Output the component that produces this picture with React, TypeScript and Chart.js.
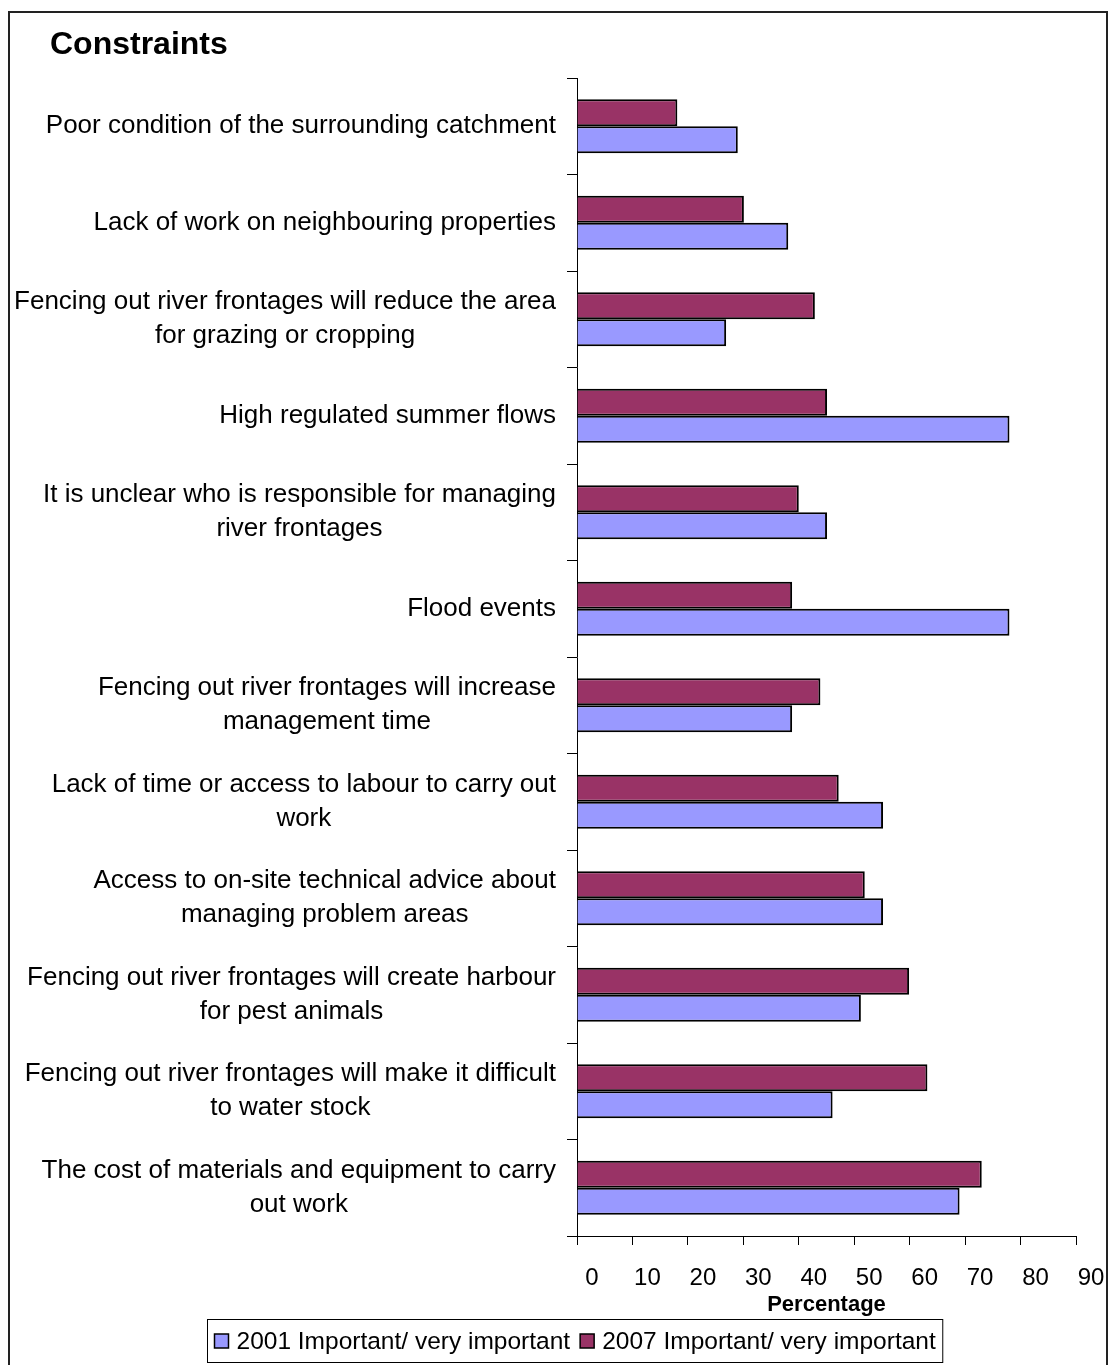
import React, { useEffect, useRef } from "react";
import { Chart, registerables } from "chart.js";

Chart.register(...registerables);

const categories: (string | string[])[] = [
  "Poor condition of the surrounding catchment",
  "Lack of work on neighbouring properties",
  ["Fencing out river frontages will reduce the area", "for grazing or cropping"],
  "High regulated summer flows",
  ["It is unclear who is responsible for managing", "river frontages"],
  "Flood events",
  ["Fencing out river frontages will increase", "management time"],
  ["Lack of time or access to labour to carry out", "work"],
  ["Access to on-site technical advice about", "managing problem areas"],
  ["Fencing out river frontages will create harbour", "for pest animals"],
  ["Fencing out river frontages will make it difficult", "to water stock"],
  ["The cost of materials and equipment to carry", "out work"],
];

const values2001 = [29, 38.1, 26.9, 78, 45.1, 78, 38.8, 55.2, 55.2, 51.2, 46.1, 69];
const values2007 = [18.1, 30.1, 42.9, 45.1, 40, 38.8, 43.9, 47.2, 51.9, 59.9, 63.2, 73];

const seriesLabels = ["2001 Important/ very important", "2007 Important/ very important"];
const chartTitle = "Constraints";
const xAxisTitle = "Percentage";
const xMin = 0;
const xMax = 90;
const xStep = 10;

const FONT = "'Liberation Sans', Arial, sans-serif";

const decorPlugin = {
  id: "decor",
  beforeDraw(chart: any) {
    const ctx = chart.ctx;
    ctx.save();
    ctx.fillStyle = "#ffffff";
    ctx.fillRect(0, 0, chart.width, chart.height);
    ctx.strokeStyle = "#222222";
    ctx.lineWidth = 2;
    ctx.beginPath();
    ctx.moveTo(9, chart.height + 5);
    ctx.lineTo(9, 12);
    ctx.lineTo(1107, 12);
    ctx.lineTo(1107, chart.height + 5);
    ctx.stroke();
    ctx.restore();
  },
  afterDraw(chart: any) {
    const ctx = chart.ctx;
    ctx.save();
    // title
    ctx.fillStyle = "#000";
    ctx.font = `bold 32px ${FONT}`;
    ctx.textAlign = "left";
    ctx.textBaseline = "alphabetic";
    ctx.fillText(chartTitle, 50, 54);

    // y category labels: block right-aligned, lines centered within block
    const yScale = chart.scales.y;
    ctx.font = `26px ${FONT}`;
    ctx.textAlign = "center";
    ctx.textBaseline = "middle";
    const labels = chart.data.labels as (string | string[])[];
    const lineH = 34;
    const rightEdge = 556;
    labels.forEach((lab, i) => {
      const lines = Array.isArray(lab) ? lab : [lab];
      const w = Math.max(...lines.map((l) => ctx.measureText(l).width));
      const cx = rightEdge - w / 2;
      const cy = yScale.getPixelForValue(i);
      lines.forEach((l, j) => {
        ctx.fillText(l, cx, cy + (j - (lines.length - 1) / 2) * lineH);
      });
    });

    // legend (2001 first, 2007 second)
    const ds = chart.data.datasets;
    const order = [1, 0];
    ctx.font = `24.5px ${FONT}`;
    ctx.textAlign = "left";
    const box = 14;
    const gapBoxText = 8;
    const gapItems = 10;
    const pad = 7;
    const widths = order.map((k) => box + gapBoxText + ctx.measureText(ds[k].label).width);
    const total = widths.reduce((a, b) => a + b, 0) + gapItems * (order.length - 1) + pad * 2;
    const cxL = 575;
    const left = Math.round(cxL - total / 2) + 0.5;
    const top = 1319.5;
    const h = 43;
    ctx.strokeStyle = "#000";
    ctx.lineWidth = 1;
    ctx.strokeRect(left, top, total, h);
    let x = left + pad;
    const cyL = top + h / 2;
    order.forEach((k, idx) => {
      ctx.fillStyle = ds[k].backgroundColor;
      ctx.fillRect(x, cyL - box / 2, box, box);
      ctx.strokeStyle = "#000";
      ctx.lineWidth = 1.5;
      ctx.strokeRect(x, cyL - box / 2, box, box);
      ctx.fillStyle = "#000";
      ctx.fillText(ds[k].label, x + box + gapBoxText, cyL + 1);
      x += widths[idx] + gapItems;
    });
    ctx.restore();
  },
};

export default function App() {
  const canvasRef = useRef<HTMLCanvasElement | null>(null);

  useEffect(() => {
    if (!canvasRef.current) return;
    const chart = new Chart(canvasRef.current, {
      type: "bar",
      data: {
        labels: categories as any,
        datasets: [
          {
            label: seriesLabels[1],
            data: values2007,
            backgroundColor: "#993366",
            borderColor: "#000000",
            borderWidth: 2,
          },
          {
            label: seriesLabels[0],
            data: values2001,
            backgroundColor: "#9999FF",
            borderColor: "#000000",
            borderWidth: 2,
          },
        ],
      },
      options: {
        indexAxis: "y",
        responsive: false,
        animation: false,
        devicePixelRatio: 1,
        layout: { padding: { top: 78, right: 34, left: 0, bottom: 0 } },
        datasets: {
          bar: { barPercentage: 1, categoryPercentage: 0.56 },
        },
        plugins: {
          legend: { display: false },
          title: { display: false },
          tooltip: { enabled: false },
        },
        scales: {
          x: {
            type: "linear",
            min: xMin,
            max: xMax,
            afterFit: (scale: any) => {
              scale.height = 1365 - 1236;
            },
            ticks: {
              stepSize: xStep,
              color: "#000",
              font: { family: FONT, size: 24 },
              padding: 19,
              labelOffset: 15,
              maxRotation: 0,
              autoSkip: false,
            },
            grid: {
              display: true,
              drawOnChartArea: false,
              drawTicks: true,
              tickLength: 9,
              color: "#000",
              lineWidth: 1,
            },
            border: { display: true, color: "#000", width: 1 },
            title: {
              display: true,
              text: xAxisTitle,
              color: "#000",
              font: { family: FONT, size: 22, weight: "bold" },
              padding: { top: 0, bottom: 47 },
            },
          },
          y: {
            type: "category",
            afterFit: (scale: any) => {
              scale.width = 577;
            },
            ticks: {
              display: false,
            },
            grid: {
              display: true,
              offset: true,
              drawOnChartArea: false,
              drawTicks: true,
              tickLength: 10,
              color: "#000",
              lineWidth: 1,
            },
            border: { display: true, color: "#000", width: 1 },
          },
        },
      },
      plugins: [decorPlugin],
    } as any);
    return () => chart.destroy();
  }, []);

  return (
    <div style={{ position: "absolute", left: 0, top: 0, width: 1110, height: 1365, background: "#fff" }}>
      <canvas ref={canvasRef} width={1110} height={1365} style={{ display: "block" }} />
    </div>
  );
}
